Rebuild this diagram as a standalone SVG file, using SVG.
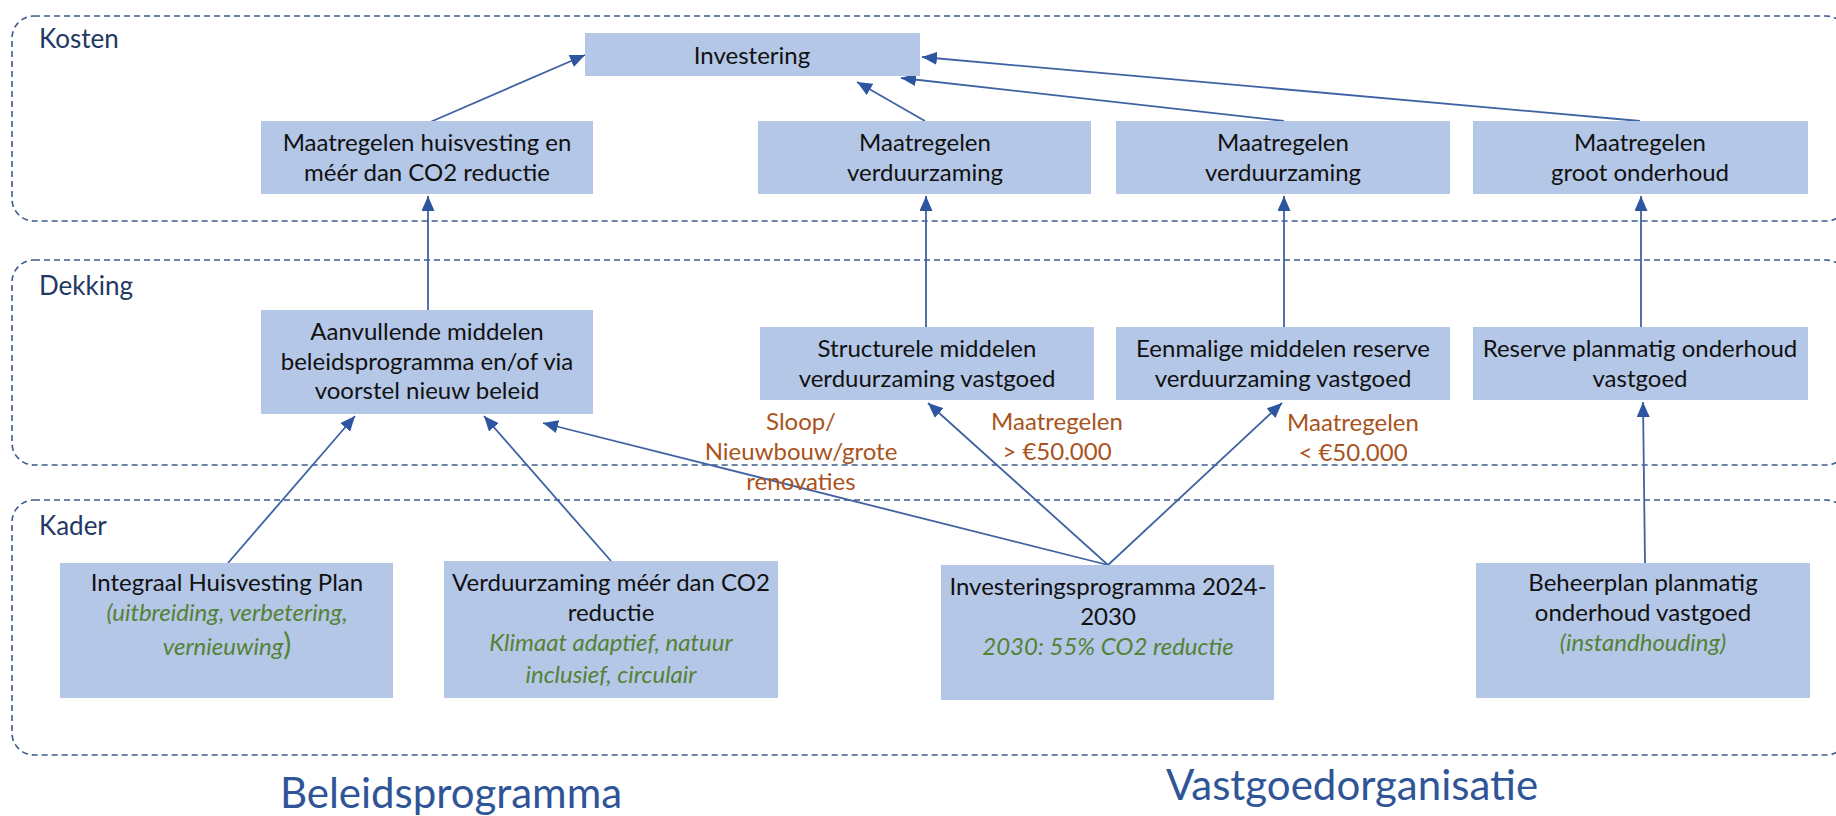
<svg xmlns="http://www.w3.org/2000/svg" width="1836" height="816" viewBox="0 0 1836 816">
<defs>
<style>
.grp{fill:none;stroke:#3E5B8C;stroke-width:1.6;stroke-dasharray:6 4}
.glabel{font-family:Lato,"Open Sans","Liberation Sans",sans-serif;font-size:26px;fill:#1F3864}
.box{fill:#B4C7E7}
.t{font-family:Lato,"Open Sans","Liberation Sans",sans-serif;font-size:24px;fill:#111111;text-anchor:middle}
.g{font-family:Lato,"Open Sans","Liberation Sans",sans-serif;font-size:24px;fill:#548235;font-style:italic;text-anchor:middle}
.o{font-family:Lato,"Open Sans","Liberation Sans",sans-serif;font-size:24px;fill:#A9531C;text-anchor:middle}
.big{font-family:Lato,"Open Sans","Liberation Sans",sans-serif;font-size:42px;fill:#2F5597;text-anchor:middle}
.c{fill:none;stroke:#3F62A3;stroke-width:1.8;marker-end:url(#ah)}
</style>
<marker id="ah" markerUnits="userSpaceOnUse" markerWidth="16" markerHeight="13" refX="15" refY="6.5" orient="auto">
<path d="M0,0 L15,6.5 L0,13 z" fill="#2E55A0"/>
</marker>
</defs>
<rect width="1836" height="816" fill="#ffffff"/>

<g id="group-kosten">
<rect class="grp" x="12" y="16" width="1836" height="205" rx="22"/>
<text class="glabel" x="39" y="48">Kosten</text>
</g>
<g id="group-dekking">
<rect class="grp" x="12" y="260" width="1836" height="205" rx="22"/>
<text class="glabel" x="39" y="295">Dekking</text>
</g>
<g id="group-kader">
<rect class="grp" x="12" y="500" width="1836" height="255" rx="22"/>
<text class="glabel" x="39" y="535">Kader</text>
</g>

<g id="connectors">
<line class="c" x1="428" y1="123" x2="585" y2="55"/>
<line class="c" x1="925" y1="121" x2="857" y2="82"/>
<line class="c" x1="1284" y1="121" x2="901" y2="78"/>
<line class="c" x1="1640" y1="121" x2="922" y2="57"/>
<line class="c" x1="428" y1="310" x2="428" y2="196"/>
<line class="c" x1="926" y1="327" x2="926" y2="196"/>
<line class="c" x1="1284" y1="327" x2="1284" y2="196"/>
<line class="c" x1="1641" y1="327" x2="1641" y2="196"/>
<line class="c" x1="228" y1="563" x2="355" y2="416"/>
<line class="c" x1="611" y1="561" x2="484" y2="416"/>
<line class="c" x1="1108" y1="565" x2="543" y2="423"/>
<line class="c" x1="1108" y1="565" x2="928" y2="403"/>
<line class="c" x1="1108" y1="565" x2="1282" y2="403"/>
<line class="c" x1="1645" y1="563" x2="1643" y2="402"/>
</g>

<g id="node-investering">
<rect class="box" x="585" y="33" width="335" height="43"/>
<text class="t" x="752" y="64">Investering</text>
</g>
<g id="node-maatregelen-huisvesting">
<rect class="box" x="261" y="121" width="332" height="73"/>
<text class="t" x="427" y="151">Maatregelen huisvesting en</text>
<text class="t" x="427" y="181">méér dan CO2 reductie</text>
</g>
<g id="node-maatregelen-verduurzaming-1">
<rect class="box" x="758" y="121" width="333" height="73"/>
<text class="t" x="925" y="151">Maatregelen</text>
<text class="t" x="925" y="181">verduurzaming</text>
</g>
<g id="node-maatregelen-verduurzaming-2">
<rect class="box" x="1116" y="121" width="334" height="73"/>
<text class="t" x="1283" y="151">Maatregelen</text>
<text class="t" x="1283" y="181">verduurzaming</text>
</g>
<g id="node-maatregelen-groot-onderhoud">
<rect class="box" x="1473" y="121" width="335" height="73"/>
<text class="t" x="1640" y="151">Maatregelen</text>
<text class="t" x="1640" y="181">groot onderhoud</text>
</g>

<g id="node-aanvullende-middelen">
<rect class="box" x="261" y="310" width="332" height="104"/>
<text class="t" x="427" y="340">Aanvullende middelen</text>
<text class="t" x="427" y="370">beleidsprogramma en/of via</text>
<text class="t" x="427" y="399">voorstel nieuw beleid</text>
</g>
<g id="node-structurele-middelen">
<rect class="box" x="760" y="327" width="334" height="73"/>
<text class="t" x="927" y="357">Structurele middelen</text>
<text class="t" x="927" y="387">verduurzaming vastgoed</text>
</g>
<g id="node-eenmalige-middelen">
<rect class="box" x="1116" y="327" width="334" height="73"/>
<text class="t" x="1283" y="357">Eenmalige middelen reserve</text>
<text class="t" x="1283" y="387">verduurzaming vastgoed</text>
</g>
<g id="node-reserve-planmatig">
<rect class="box" x="1473" y="327" width="335" height="73"/>
<text class="t" x="1640" y="357">Reserve planmatig onderhoud</text>
<text class="t" x="1640" y="387">vastgoed</text>
</g>

<g id="labels-edges">
<text class="o" x="801" y="430">Sloop/</text>
<text class="o" x="801" y="460">Nieuwbouw/grote</text>
<text class="o" x="801" y="490">renovaties</text>
<text class="o" x="1057" y="430">Maatregelen</text>
<text class="o" x="1057" y="460">&gt; €50.000</text>
<text class="o" x="1353" y="431">Maatregelen</text>
<text class="o" x="1353" y="461">&lt; €50.000</text>
</g>

<g id="node-integraal-huisvesting-plan">
<rect class="box" x="60" y="563" width="333" height="135"/>
<text class="t" x="227" y="591">Integraal Huisvesting Plan</text>
<text class="g" x="227" y="621">(uitbreiding, verbetering,</text>
<text class="g" x="227" y="655">vernieuwing<tspan font-style="normal" font-size="30">)</tspan></text>
</g>
<g id="node-verduurzaming-meer">
<rect class="box" x="444" y="561" width="334" height="137"/>
<text class="t" x="611" y="591">Verduurzaming méér dan CO2</text>
<text class="t" x="611" y="621">reductie</text>
<text class="g" x="611" y="651">Klimaat adaptief, natuur</text>
<text class="g" x="611" y="683">inclusief, circulair</text>
</g>
<g id="node-investeringsprogramma">
<rect class="box" x="941" y="565" width="333" height="135"/>
<text class="t" x="1108" y="595">Investeringsprogramma 2024-</text>
<text class="t" x="1108" y="625">2030</text>
<text class="g" x="1108" y="655">2030: 55% CO2 reductie</text>
</g>
<g id="node-beheerplan">
<rect class="box" x="1476" y="563" width="334" height="135"/>
<text class="t" x="1643" y="591">Beheerplan planmatig</text>
<text class="t" x="1643" y="621">onderhoud vastgoed</text>
<text class="g" x="1643" y="651">(instandhouding)</text>
</g>

<g id="footer-labels">
<text class="big" x="451" y="808">Beleidsprogramma</text>
<text class="big" x="1352" y="800">Vastgoedorganisatie</text>
</g>
</svg>
